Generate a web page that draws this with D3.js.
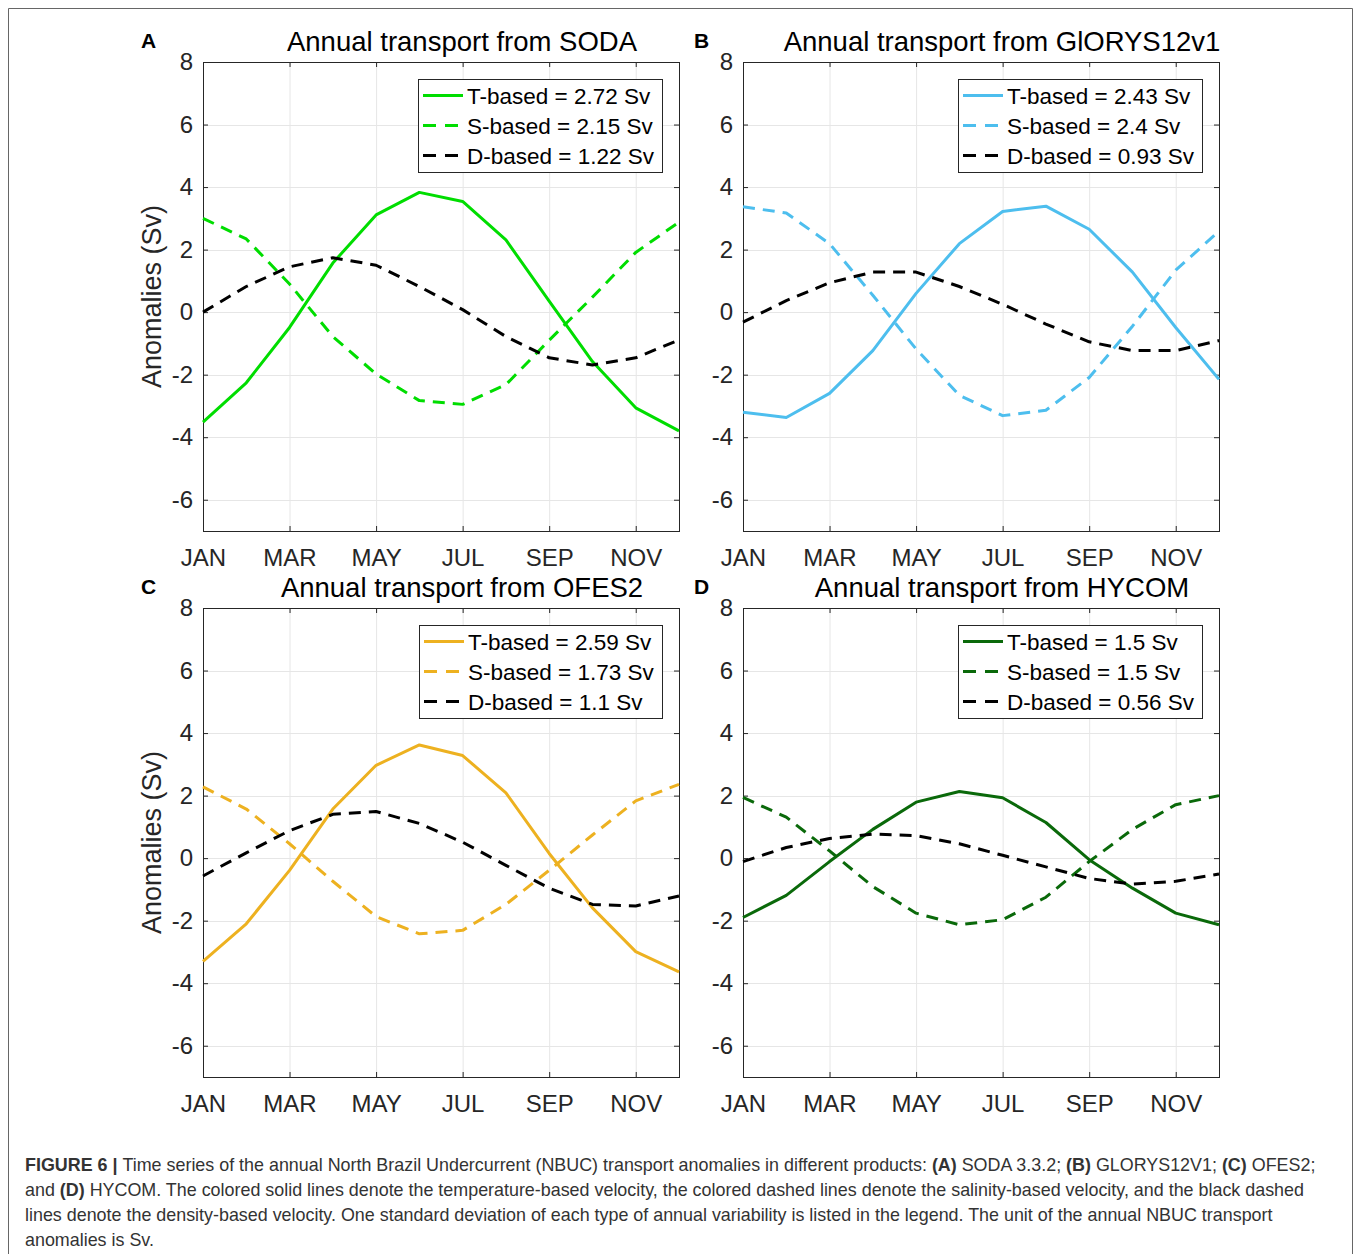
<!DOCTYPE html>
<html>
<head>
<meta charset="utf-8">
<script src="https://cdn.jsdelivr.net/npm/d3@7"></script>
<style>
  html, body { margin: 0; padding: 0; background: #fff; }
  svg { display: block; font-family: "Liberation Sans", Arial, Helvetica, sans-serif; }
</style>
</head>
<body>
<svg id="fig" width="1358" height="1254"></svg>
<script>
// ---- data -------------------------------------------------------------
const months = [1, 2, 3, 4, 5, 6, 7, 8, 9, 10, 11, 12];
const tickMonths = [1, 3, 5, 7, 9, 11];
const tickLabels = ["JAN", "MAR", "MAY", "JUL", "SEP", "NOV"];
const yTicks = [-6, -4, -2, 0, 2, 4, 6, 8];
const seriesNames = ["T-based", "S-based", "D-based"];

// SODA 3.3.2
const sodaT = [-3.52, -2.26, -0.49, 1.57, 3.11, 3.83, 3.54, 2.31, 0.35, -1.58, -3.06, -3.80];
const sodaS = [3.00, 2.34, 0.90, -0.78, -1.98, -2.83, -2.95, -2.32, -0.90, 0.48, 1.91, 2.88];
const sodaD = [0.00, 0.82, 1.45, 1.74, 1.50, 0.82, 0.08, -0.78, -1.46, -1.69, -1.46, -0.89];
const sodaStd = [2.72, 2.15, 1.22];

// GLORYS12V1
const glorysT = [-3.20, -3.37, -2.60, -1.23, 0.60, 2.19, 3.22, 3.39, 2.65, 1.28, -0.49, -2.15];
const glorysS = [3.37, 3.17, 2.19, 0.54, -1.18, -2.66, -3.31, -3.14, -2.09, -0.45, 1.34, 2.59];
const glorysD = [-0.32, 0.37, 0.94, 1.28, 1.28, 0.82, 0.25, -0.38, -0.95, -1.23, -1.23, -0.91];
const glorysStd = [2.43, 2.4, 0.93];

// OFES2
const ofesT = [-3.30, -2.10, -0.39, 1.57, 2.97, 3.62, 3.28, 2.09, 0.15, -1.59, -2.99, -3.64];
const ofesS = [2.28, 1.57, 0.46, -0.74, -1.87, -2.42, -2.31, -1.48, -0.39, 0.74, 1.83, 2.36];
const ofesD = [-0.57, 0.17, 0.88, 1.40, 1.49, 1.11, 0.51, -0.23, -0.96, -1.48, -1.53, -1.21];
const ofesStd = [2.59, 1.73, 1.1];

// HYCOM
const hycomT = [-1.90, -1.19, -0.11, 0.92, 1.79, 2.13, 1.93, 1.14, -0.05, -0.96, -1.76, -2.13];
const hycomS = [1.94, 1.31, 0.23, -0.91, -1.76, -2.13, -1.97, -1.25, -0.11, 0.92, 1.71, 2.00];
const hycomD = [-0.11, 0.34, 0.63, 0.77, 0.72, 0.46, 0.09, -0.28, -0.65, -0.83, -0.74, -0.51];
const hycomStd = [1.5, 1.5, 0.56];

// ---- layout -------------------------------------------------------------
const plotW = 476, plotH = 469;
const panels = [
  { letter: "A", title: "Annual transport from SODA",       color: "#00dd00", data: [sodaT, sodaS, sodaD],       std: sodaStd,   left: 203, top: 62,  letterDx: -62, ylabel: true },
  { letter: "B", title: "Annual transport from GlORYS12v1", color: "#4dbeee", data: [glorysT, glorysS, glorysD], std: glorysStd, left: 743, top: 62,  letterDx: -49, ylabel: false },
  { letter: "C", title: "Annual transport from OFES2",      color: "#edb120", data: [ofesT, ofesS, ofesD],       std: ofesStd,   left: 203, top: 608, letterDx: -62, ylabel: true },
  { letter: "D", title: "Annual transport from HYCOM",      color: "#0a690a", data: [hycomT, hycomS, hycomD],    std: hycomStd,  left: 743, top: 608, letterDx: -49, ylabel: false }
];

const axisColor = "#262626";
const gridColor = "#e6e6e6";
const dashPattern = "12,8";

const svg = d3.select("#fig");

// outer frame of the figure
svg.append("path")
  .attr("d", "M8.5,1260V8.5H1352.5V1260")
  .attr("fill", "none")
  .attr("stroke", "#666")
  .attr("stroke-width", 1);

const x = d3.scaleLinear().domain([1, 12]).range([0, plotW]);
const y = d3.scaleLinear().domain([-7, 8]).range([plotH, 0]);

panels.forEach((p, pi) => {
  const g = svg.append("g").attr("transform", `translate(${p.left},${p.top})`);

  // grid
  const grid = g.append("g");
  grid.selectAll("line.vx").data(tickMonths).join("line")
    .attr("x1", d => x(d) + 0.5).attr("x2", d => x(d) + 0.5)
    .attr("y1", 0).attr("y2", plotH)
    .attr("stroke", gridColor).attr("stroke-width", 1);
  grid.selectAll("line.hy").data(yTicks).join("line")
    .attr("x1", 0).attr("x2", plotW)
    .attr("y1", d => Math.round(y(d)) + 0.5).attr("y2", d => Math.round(y(d)) + 0.5)
    .attr("stroke", gridColor).attr("stroke-width", 1);

  // axes with inward ticks
  const xAxis = g.append("g").attr("transform", `translate(0,${plotH})`)
    .call(d3.axisBottom(x).tickValues(tickMonths).tickFormat((d, i) => tickLabels[i])
      .tickSizeInner(-5).tickSizeOuter(0).tickPadding(18));
  const yAxis = g.append("g")
    .call(d3.axisLeft(y).tickValues(yTicks).tickFormat(d => String(d))
      .tickSizeInner(-5).tickSizeOuter(0).tickPadding(10));
  const xTop = g.append("g")
    .call(d3.axisTop(x).tickValues(tickMonths).tickFormat("").tickSizeInner(-5).tickSizeOuter(0));
  const yRight = g.append("g").attr("transform", `translate(${plotW},0)`)
    .call(d3.axisRight(y).tickValues(yTicks).tickFormat("").tickSizeInner(-5).tickSizeOuter(0));

  [xAxis, yAxis, xTop, yRight].forEach(a => {
    a.select(".domain").remove();
    a.selectAll("line").attr("stroke", axisColor);
    a.selectAll("text")
      .attr("fill", axisColor)
      .attr("font-size", 24)
      .attr("font-family", "Liberation Sans, Arial, sans-serif");
  });

  // box
  g.append("rect")
    .attr("x", 0.5).attr("y", 0.5)
    .attr("width", plotW).attr("height", plotH)
    .attr("fill", "none").attr("stroke", axisColor).attr("stroke-width", 1);

  // series lines
  const clipId = `clip${pi}`;
  g.append("clipPath").attr("id", clipId)
    .append("rect").attr("width", plotW + 2).attr("height", plotH).attr("x", -1);

  const line = d3.line().x((d, i) => x(months[i])).y(d => y(d));
  const styles = [
    { color: p.color, dash: null },
    { color: p.color, dash: dashPattern },
    { color: "#000000", dash: dashPattern }
  ];
  const lines = g.append("g").attr("clip-path", `url(#${clipId})`);
  p.data.forEach((vals, k) => {
    lines.append("path")
      .datum(vals)
      .attr("d", line)
      .attr("fill", "none")
      .attr("stroke", styles[k].color)
      .attr("stroke-width", 3)
      .attr("stroke-linejoin", "round")
      .attr("stroke-dasharray", styles[k].dash);
  });

  // legend
  const leg = g.append("g");
  const legTop = 17;
  const rowH = 30;
  const legBox = leg.append("rect")
    .attr("fill", "#fff").attr("stroke", axisColor).attr("stroke-width", 1);
  const texts = [];
  seriesNames.forEach((name, k) => {
    const cy = legTop + 16.5 + k * rowH;
    leg.append("line")
      .attr("x1", 5).attr("x2", 45).attr("y1", cy).attr("y2", cy)
      .attr("stroke", styles[k].color).attr("stroke-width", 3)
      .attr("stroke-dasharray", styles[k].dash ? "13,9" : null);
    const t = leg.append("text")
      .attr("x", 49).attr("y", cy + 8)
      .attr("font-size", 22.5).attr("fill", "#000")
      .text(`${name} = ${p.std[k]} Sv`);
    texts.push(t);
  });
  const maxW = d3.max(texts, t => t.node().getComputedTextLength());
  const legW = Math.max(241, Math.round(49 + maxW + 8));
  legBox.attr("x", 0.5).attr("y", legTop + 0.5).attr("width", legW).attr("height", 93);
  leg.attr("transform", `translate(${plotW - 17 - legW},0)`);

  // title
  g.append("text")
    .attr("x", plotW / 2 + 21).attr("y", -11.5)
    .attr("text-anchor", "middle")
    .attr("font-size", 27.5).attr("fill", "#000")
    .text(p.title);

  // panel letter
  g.append("text")
    .attr("x", p.letterDx).attr("y", -14.5)
    .attr("font-size", 21).attr("font-weight", "bold").attr("fill", "#000")
    .text(p.letter);

  // y-axis label
  if (p.ylabel) {
    g.append("text")
      .attr("transform", `translate(-42,${plotH / 2}) rotate(-90)`)
      .attr("text-anchor", "middle")
      .attr("font-size", 27).attr("fill", axisColor)
      .text("Anomalies (Sv)");
  }
});

// ---- caption ------------------------------------------------------------
const captionLines = [
  [["FIGURE 6 | ", true], ["Time series of the annual North Brazil Undercurrent (NBUC) transport anomalies in different products: ", false],
   ["(A)", true], [" SODA 3.3.2; ", false], ["(B)", true], [" GLORYS12V1; ", false], ["(C)", true], [" OFES2;", false]],
  [["and ", false], ["(D)", true], [" HYCOM. The colored solid lines denote the temperature-based velocity, the colored dashed lines denote the salinity-based velocity, and the black dashed", false]],
  [["lines denote the density-based velocity. One standard deviation of each type of annual variability is listed in the legend. The unit of the annual NBUC transport", false]],
  [["anomalies is Sv.", false]]
];
const cap = svg.append("g");
captionLines.forEach((segs, li) => {
  const t = cap.append("text")
    .attr("x", 25).attr("y", 1171 + li * 25)
    .attr("font-size", 17.9).attr("fill", "#333");
  segs.forEach(([s, b]) => {
    t.append("tspan").attr("font-weight", b ? "bold" : null).text(s);
  });
});
</script>
</body>
</html>
